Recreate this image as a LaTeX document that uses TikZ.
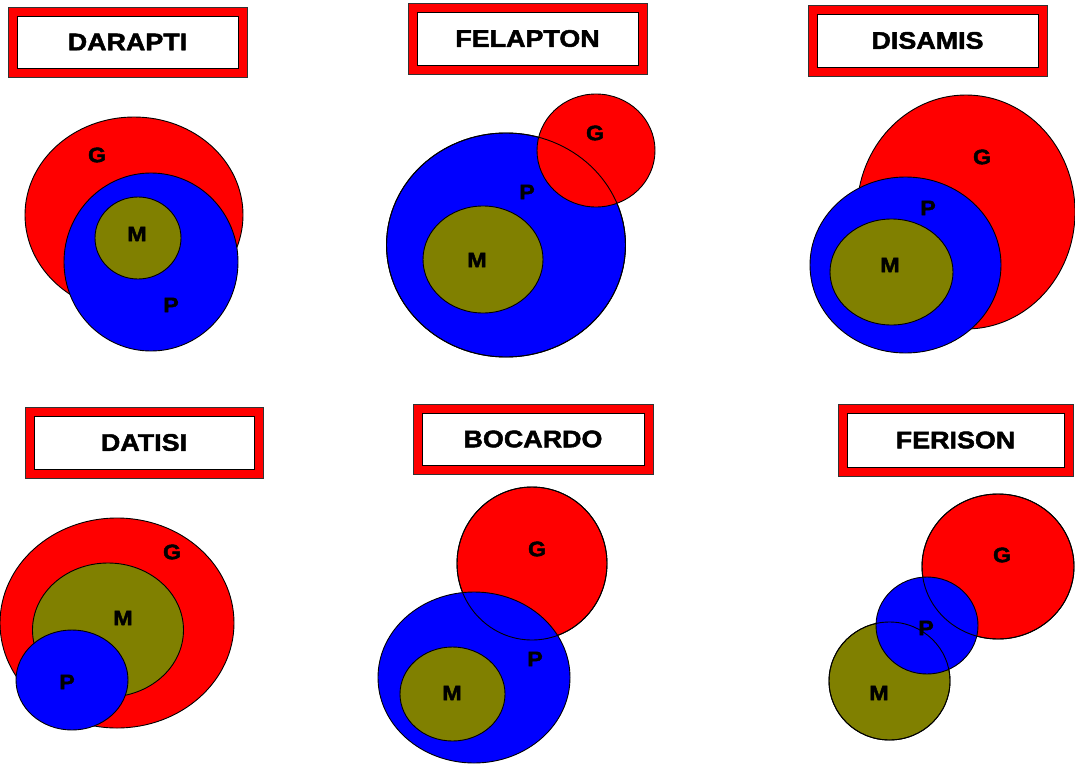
\documentclass[tikz,border=0pt]{standalone}
\usepackage{fontspec}
\newfontfamily\ttlfont[FakeStretch=1.12,FakeBold=2]{Liberation Sans Bold}
\newfontfamily\lblfont[FakeStretch=1.1,FakeBold=2]{Liberation Sans Bold}
\definecolor{vred}{HTML}{FF0000}
\definecolor{vblue}{HTML}{0000FF}
\definecolor{volive}{HTML}{808000}
\tikzset{
  rim/.style={line width=0.9pt, draw=black},
  gset/.style={rim, fill=vred},
  pset/.style={rim, fill=vblue},
  mset/.style={rim, fill=volive},
  edge/.style={rim},
  lbl/.style={font=\lblfont\fontsize{21}{21}\selectfont, inner sep=0pt, text=black},
  ttl/.style={font=\ttlfont\fontsize{24}{24}\selectfont, inner sep=0pt, text=black},
  frameout/.style={fill=vred, draw=black!80, line width=0.8pt},
  framein/.style={fill=white, draw=black, line width=0.8pt},
}
\newcommand{\titlebox}[6]{% x1 y1 x2 y2 name text
  \draw[frameout] (#1,#2) rectangle (#3,#4);
  \draw[framein] ({#1+9},{#2+9}) rectangle ({#3-9},{#4-9});
  \node[ttl] (#5) at ({(#1+#3)/2},{(#2+#4)/2}) {#6};
}
\begin{document}
\begin{tikzpicture}[x=1pt,y=-1pt]
\useasboundingbox (0,0) rectangle (1075,765);

% ---------- titles ----------
\titlebox{8}{7}{247}{77}{tDarapti}{DARAPTI}
\titlebox{408}{3}{647}{74}{tFelapton}{FELAPTON}
\titlebox{808}{5}{1047}{76}{tDisamis}{DISAMIS}
\titlebox{25}{407}{263}{478}{tDatisi}{DATISI}
\titlebox{413}{404}{653}{474}{tBocardo}{BOCARDO}
\titlebox{838}{404}{1073}{476}{tFerison}{FERISON}

% ---------- DARAPTI ----------
\draw[gset] (134,215) ellipse [x radius=109pt, y radius=98pt];
\draw[pset] (151,262) ellipse [x radius=87pt, y radius=89pt];
\draw[mset] (138,238) ellipse [x radius=43pt, y radius=41pt];
\node[lbl] (daG) at (97,155) {G};
\node[lbl] (daM) at (137,234) {M};
\node[lbl] (daP) at (171,305) {P};

% ---------- FELAPTON ----------
\draw[pset] (506,245) ellipse [x radius=119.5pt, y radius=112pt];
\draw[mset] (483,259.5) ellipse [x radius=60pt, y radius=53.5pt];
\draw[gset] (596,150.5) ellipse [x radius=59pt, y radius=56.5pt];
\draw[edge] (506,245) ellipse [x radius=119.5pt, y radius=112pt];
\node[lbl] (feG) at (595,133) {G};
\node[lbl] (feP) at (527,192) {P};
\node[lbl] (feM) at (477,260) {M};

% ---------- DISAMIS ----------
\draw[gset] (966,212) ellipse [x radius=109pt, y radius=117pt];
\draw[pset] (905.5,265) ellipse [x radius=95.5pt, y radius=88pt];
\draw[mset] (891.5,272) ellipse [x radius=61.5pt, y radius=53pt];
\node[lbl] (diG) at (982,157) {G};
\node[lbl] (diP) at (928,208) {P};
\node[lbl] (diM) at (890,265) {M};

% ---------- DATISI ----------
\draw[gset] (117,623) ellipse [x radius=117pt, y radius=105pt];
\draw[mset] (108,630) ellipse [x radius=75.5pt, y radius=67pt];
\draw[pset] (72,680) ellipse [x radius=56pt, y radius=50pt];
\node[lbl] (dtG) at (172,552) {G};
\node[lbl] (dtM) at (123,618) {M};
\node[lbl] (dtP) at (67,682) {P};

% ---------- BOCARDO ----------
\draw[gset] (532,563.5) ellipse [x radius=75pt, y radius=76.5pt];
\draw[pset] (474,677.5) ellipse [x radius=96pt, y radius=85.5pt];
\draw[mset] (452.5,694) ellipse [x radius=52.5pt, y radius=47pt];
\draw[edge] (532,563.5) ellipse [x radius=75pt, y radius=76.5pt];
\node[lbl] (boG) at (537,549) {G};
\node[lbl] (boP) at (535,659) {P};
\node[lbl] (boM) at (452,693) {M};

% ---------- FERISON ----------
\draw[mset] (889.5,681) ellipse [x radius=60.5pt, y radius=59pt];
\draw[gset] (998,566.5) ellipse [x radius=76pt, y radius=72.5pt];
\draw[pset] (927,625.5) ellipse [x radius=51pt, y radius=48.5pt];
\draw[edge] (889.5,681) ellipse [x radius=60.5pt, y radius=59pt];
\draw[edge] (998,566.5) ellipse [x radius=76pt, y radius=72.5pt];
\node[lbl] (frG) at (1002,555) {G};
\node[lbl] (frP) at (926,628) {P};
\node[lbl] (frM) at (879,693) {M};
\end{tikzpicture}
\end{document}
